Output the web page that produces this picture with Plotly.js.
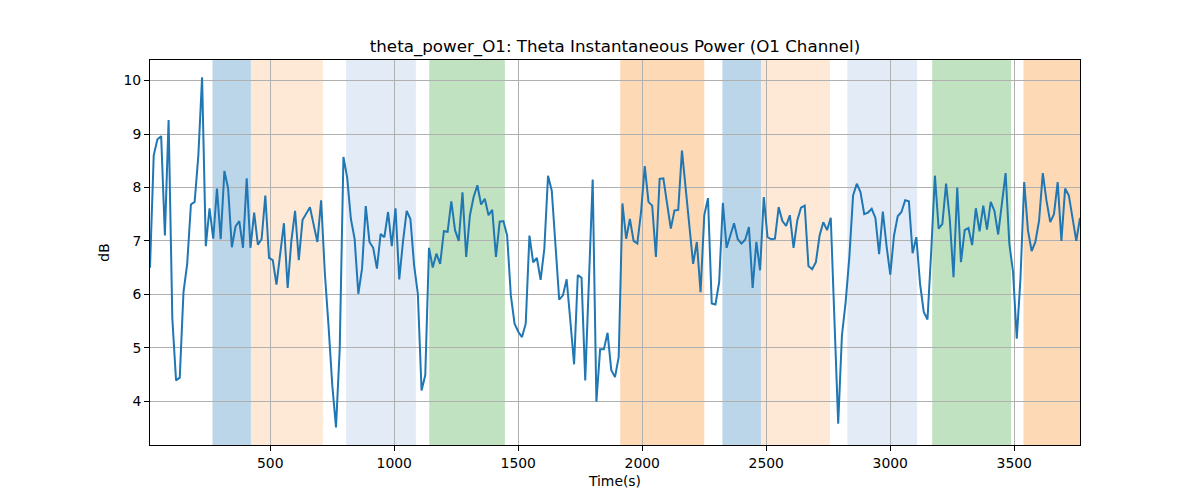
<!DOCTYPE html>
<html>
<head>
<meta charset="utf-8">
<script src="https://cdn.plot.ly/plotly-3.0.1.min.js"></script>
<style>
  body { margin: 0; background: #fff; }
  #PLOT { width: 1200px; height: 500px; }
</style>
</head>
<body>
<div id="PLOT"></div>
<script>
// sampling of the power series (seconds)
const t0 = 15;
const dt = 15;

// theta power, dB
const thetaPower = [
  6.5, 8.6, 8.9, 8.96, 7.1, 9.26, 5.55, 4.39, 4.44, 6.04,
  6.57, 7.68, 7.73, 8.6, 10.06, 6.9, 7.61, 7.04, 7.98, 7.03,
  8.31, 7.98, 6.88, 7.27, 7.37, 6.87, 8.17, 6.87, 7.53, 6.93,
  7.03, 7.85, 6.68, 6.64, 6.18, 6.72, 7.33, 6.12, 7.0, 7.56,
  6.64, 7.39, 7.5, 7.63, 7.3, 6.98, 7.76, 6.4, 5.4, 4.3,
  3.51, 4.98, 8.57, 8.19, 7.41, 7.04, 6.01, 6.48, 7.65, 6.98,
  6.87, 6.48, 7.13, 7.07, 7.54, 6.9, 7.61, 6.28, 6.98, 7.56,
  7.41, 6.54, 6.01, 4.2, 4.49, 6.87, 6.5, 6.76, 6.57, 7.18,
  7.17, 7.74, 7.2, 7.0, 7.91, 6.7, 7.48, 7.82, 8.04, 7.68,
  7.79, 7.48, 7.58, 6.7, 7.36, 7.37, 7.1, 5.98, 5.45, 5.3,
  5.2, 5.45, 7.1, 6.6, 6.68, 6.27, 6.85, 8.22, 7.94, 7.0,
  5.9, 5.98, 6.28, 5.5, 4.69, 6.36, 6.31, 4.39, 6.3, 8.15,
  3.99, 4.97, 4.97, 5.28, 4.58, 4.45, 4.83, 7.7, 7.04, 7.41,
  7.0, 6.95, 7.54, 8.4, 7.73, 7.66, 6.7, 8.16, 8.17, 7.7,
  7.23, 7.57, 7.58, 8.69, 7.95, 7.2, 6.57, 6.98, 6.04, 7.48,
  7.8, 5.83, 5.81, 6.23, 7.71, 6.87, 7.1, 7.33, 7.03, 6.95,
  7.02, 7.26, 6.12, 6.98, 6.45, 7.82, 7.07, 7.03, 7.04, 7.63,
  7.37, 7.28, 7.48, 6.87, 7.38, 7.62, 7.66, 6.53, 6.47, 6.6,
  7.1, 7.35, 7.2, 7.43, 5.5, 3.58, 5.23, 5.85, 6.7, 7.85,
  8.07, 7.91, 7.5, 7.53, 7.6, 7.43, 6.75, 7.55, 6.9, 6.37,
  7.1, 7.46, 7.54, 7.76, 7.74, 6.77, 7.07, 6.2, 5.67, 5.53,
  6.8, 8.22, 7.23, 7.32, 8.07, 7.4, 6.32, 8.0, 6.6, 7.2,
  7.24, 6.92, 7.61, 7.18, 7.66, 7.21, 7.73, 7.56, 7.12, 7.66,
  8.27, 6.95, 6.42, 5.17, 6.3, 8.1, 7.2, 6.81, 6.98, 7.38,
  8.27, 7.75, 7.35, 7.5, 8.1, 7.0, 7.98, 7.85, 7.4, 7.0,
  7.43
];

// shaded intervals (seconds)
const bandStart = [267, 422, 806, 1141, 1911, 2323, 2479, 2827, 3169, 3537];
const bandEnd   = [422, 712, 1087, 1446, 2250, 2479, 2757, 3108, 3487, 3800];
const bandColor = [
  'rgb(188,214,233)', 'rgb(254,233,214)', 'rgb(227,235,247)', 'rgb(192,226,192)', 'rgb(254,217,182)',
  'rgb(188,214,233)', 'rgb(254,233,214)', 'rgb(227,235,247)', 'rgb(192,226,192)', 'rgb(254,217,182)'
];

const xTicks = [500, 1000, 1500, 2000, 2500, 3000, 3500];
const yTicks = [4, 5, 6, 7, 8, 9, 10];

const font = 'DejaVu Sans, sans-serif';

const shapes = bandStart.map((s, i) => ({
  type: 'rect',
  xref: 'x', yref: 'paper',
  x0: s, x1: bandEnd[i],
  y0: 0, y1: 1,
  fillcolor: bandColor[i],
  line: { width: 0 },
  layer: 'below'
}));

const trace = {
  y: thetaPower,
  x0: t0,
  dx: dt,
  type: 'scatter',
  mode: 'lines',
  line: { color: '#1f77b4', width: 2 },
  hoverinfo: 'x+y'
};

const axisStyle = {
  showline: true,
  mirror: true,
  linecolor: '#000',
  linewidth: 1,
  ticks: 'outside',
  ticklen: 5,
  tickwidth: 1,
  tickcolor: '#000',
  showgrid: true,
  gridcolor: '#b0b0b0',
  gridwidth: 1,
  zeroline: false,
  tickfont: { family: font, size: 13.9, color: '#000' }
};

const layout = {
  width: 1200,
  height: 500,
  paper_bgcolor: '#fff',
  plot_bgcolor: 'rgba(0,0,0,0)',
  margin: { l: 150, r: 120, t: 60, b: 55 },
  showlegend: false,
  title: {
    text: 'theta_power_O1: Theta Instantaneous Power (O1 Channel)',
    font: { family: font, size: 16.7, color: '#000' },
    x: 0.5, xanchor: 'center',
    xref: 'paper',
    yref: 'container', y: 0.908, yanchor: 'middle'
  },
  xaxis: Object.assign({}, axisStyle, {
    range: [t0, t0 + dt * (thetaPower.length - 1)],
    tickvals: xTicks,
    title: { text: 'Time(s)', font: { family: font, size: 13.9, color: '#000' }, standoff: 6 }
  }),
  yaxis: Object.assign({}, axisStyle, {
    range: [3.18, 10.385],
    tickvals: yTicks,
    title: { text: 'dB', font: { family: font, size: 13.9, color: '#000' }, standoff: 10 }
  }),
  shapes: shapes
};

Plotly.newPlot(document.getElementById('PLOT'), [trace], layout, { displayModeBar: false, staticPlot: true });
</script>
</body>
</html>
